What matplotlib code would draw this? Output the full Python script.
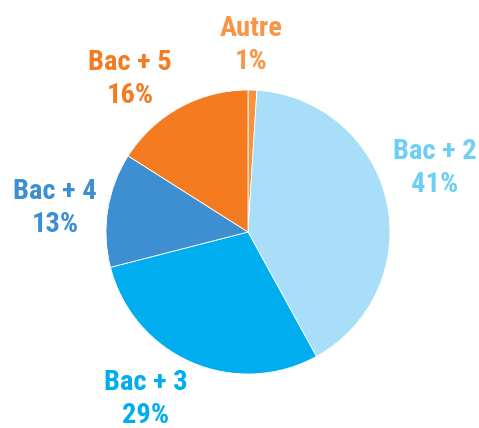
import matplotlib
matplotlib.use("Agg")
from matplotlib import pyplot as plt

labels = ["Autre", "Bac + 2", "Bac + 3", "Bac + 4", "Bac + 5"]
values = [1, 41, 29, 13, 16]
slice_colors = ["#F69240", "#A8DEF8", "#00AEEF", "#3D8FD1", "#F47B20"]
text_colors = ["#F79646", "#6DCFF6", "#00AEEF", "#3D8FD1", "#F47B20"]
# label centres in pixel coords (x, y from top)
label_pos = [(251, 45), (435, 168), (146, 399), (55, 208), (130, 79)]

W, H = 479, 428
fig = plt.figure(figsize=(W / 100, H / 100), dpi=100)
ax = fig.add_axes([0, 0, 1, 1])

ax.pie(values, colors=slice_colors, startangle=90, counterclock=False,
       center=(248, H - 232), radius=142, frame=True,
       wedgeprops=dict(linewidth=0.6, edgecolor="white"))
ax.set_xlim(0, W)
ax.set_ylim(0, H)
ax.set_aspect("equal")
ax.axis("off")

for lab, val, col, (x, y) in zip(labels, values, text_colors, label_pos):
    ax.text(x, H - y, f"{lab}\n{val}%", color=col, ha="center", va="center",
            fontsize=20.5, fontweight="bold", family="Roboto Condensed",
            linespacing=1.3)

fig.savefig("out.png", dpi=100)
